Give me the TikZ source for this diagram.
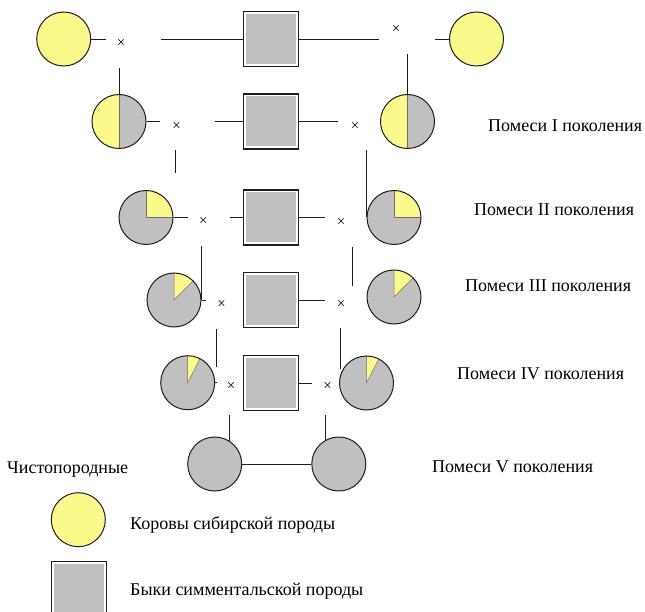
\documentclass[tikz,border=0pt]{standalone}
\usepackage{fontspec}
\setmainfont{Liberation Serif}
\definecolor{cowyellow}{RGB}{250,250,140}
\definecolor{bullgray}{RGB}{192,192,192}
\definecolor{inkline}{RGB}{30,30,30}
\definecolor{seamgray}{RGB}{110,110,110}

\begin{document}
\begin{tikzpicture}[x=1pt,y=1pt,
  cow/.style={circle,draw=inkline,line width=1pt,fill=cowyellow,minimum size=54pt,inner sep=0pt},
  mix/.style={circle,draw=inkline,line width=1pt,fill=bullgray,minimum size=54pt,inner sep=0pt},
  halfmix/.style={mix,
    path picture={
      \fill[cowyellow] (path picture bounding box.north west) rectangle (path picture bounding box.south);
      \draw[seamgray,line width=0.8pt] (path picture bounding box.north) -- (path picture bounding box.south);}},
  shareyellow/.style={mix,
    path picture={
      \fill[cowyellow] (path picture bounding box.center) -- +(90:45pt) -- +({(90+#1)/2}:45pt) -- +(#1:45pt) -- cycle;
      \draw[seamgray,line width=0.5pt] (path picture bounding box.center) +(90:30pt) -- (path picture bounding box.center) -- +(#1:30pt);}},
  bull/.style={rectangle,draw=inkline,line width=1.2pt,fill=white,minimum size=55pt,inner sep=0pt,
    path picture={
      \fill[bullgray] ([shift={(2.5pt,2.5pt)}]path picture bounding box.south west)
        rectangle ([shift={(-2.5pt,-2.5pt)}]path picture bounding box.north east);}},
  link/.style={draw=inkline,line width=0.9pt},
  crossmark/.style={font=\fontsize{15}{15}\selectfont,inner sep=0pt},
  caption/.style={font=\fontsize{18}{18}\selectfont,anchor=west,inner sep=0pt},
]
\useasboundingbox[fill=white] (0,0) rectangle (645,-612);

% --- parents and crossbred generations ---
\node[cow] (c1L) at (63.7,-39) {};
\node[bull] (b1) at (271,-39) {};
\node[cow] (c1R) at (476.5,-39) {};

\node[halfmix] (c2L) at (119,-121.5) {};
\node[bull] (b2) at (271,-121.5) {};
\node[halfmix] (c2R) at (407.5,-121.5) {};

\node[shareyellow=0] (c3L) at (146,-217.5) {};
\node[bull] (b3) at (271,-217.5) {};
\node[shareyellow=0] (c3R) at (394,-217.5) {};

\node[shareyellow=45] (c4L) at (174,-300) {};
\node[bull] (b4) at (271,-300) {};
\node[shareyellow=45] (c4R) at (394,-297) {};

\node[shareyellow=63] (c5L) at (187.7,-382.7) {};
\node[bull] (b5) at (271,-383) {};
\node[shareyellow=63] (c5R) at (366.5,-383) {};

\node[mix] (c6L) at (214.7,-464) {};
\node[mix] (c6R) at (338.8,-464) {};

% --- crossing marks ---
\node[crossmark] (x1L) at (121,-43) {×};
\node[crossmark] (x1R) at (396,-29) {×};
\node[crossmark] (x2L) at (176.7,-126) {×};
\node[crossmark] (x2R) at (355,-126) {×};
\node[crossmark] (x3L) at (203.3,-221.7) {×};
\node[crossmark] (x3R) at (341,-222.3) {×};
\node[crossmark] (x4L) at (221.7,-304) {×};
\node[crossmark] (x4R) at (341,-304) {×};
\node[crossmark] (x5L) at (231,-386.7) {×};
\node[crossmark] (x5R) at (327.7,-386.7) {×};

% --- free ends of the connectors ---
\coordinate (h1a) at (106,-39);
\coordinate (h1b) at (160.7,-39);
\coordinate (h1c) at (379,-39);
\coordinate (h1d) at (435,-39);
\coordinate (h2a) at (160,-121.5);
\coordinate (h2b) at (215,-121.5);
\coordinate (h2c) at (338,-121.5);
\coordinate (h3a) at (187.7,-217.5);
\coordinate (h3b) at (230,-217.5);
\coordinate (h3c) at (325,-217.5);
\coordinate (h4a) at (206,-300);
\coordinate (h4c) at (325,-300);
\coordinate (h5a) at (217,-382.7);
\coordinate (h5c) at (311.7,-383);

\coordinate (v1a) at (0,-67.7);
\coordinate (v1b) at (0,-54);
\coordinate (v2a) at (175,-150);
\coordinate (v2b) at (175,-173);
\coordinate (v2c) at (0,-150);
\coordinate (v3a) at (0,-245.7);
\coordinate (v3b) at (352.7,-246.7);
\coordinate (v3c) at (352.7,-285.7);
\coordinate (v4a) at (216,-329);
\coordinate (v4b) at (216,-367);
\coordinate (v4c) at (340,-328);
\coordinate (v4d) at (340,-369);
\coordinate (v5a) at (0,-415);

% --- horizontal connectors ---
\draw[link] (c1L.east) -- (h1a);
\draw[link] (h1b) -- (b1.west);
\draw[link] (b1.east) -- (h1c);
\draw[link] (h1d) -- (c1R.west);

\draw[link] (c2L.east) -- (h2a);
\draw[link] (h2b) -- (b2.west);
\draw[link] (b2.east) -- (h2c);

\draw[link] (c3L.east) -- (h3a);
\draw[link] (h3b) -- (b3.west);
\draw[link] (b3.east) -- (h3c);

\draw[link] (c4L.east) -- (h4a);
\draw[link] (b4.east) -- (h4c);

\draw[link] (c5L.east) -- (h5a);
\draw[link] (b5.east) -- (h5c);

\draw[link] (c6L.east) -- (c6R.west);

% --- vertical connectors ---
\draw[link] (c2L.north |- v1a) -- (c2L.north);
\draw[link] (c2R.north |- v1b) -- (c2R.north);
\draw[link] (v2a) -- (v2b);
\draw[link] (c3R.west |- v2c) -- (c3R.west);
\draw[link] (c4L.east |- v3a) -- (c4L.east);
\draw[link] (v3b) -- (v3c);
\draw[link] (v4a) -- (v4b);
\draw[link] (v4c) -- (v4d);
\draw[link] (c6L.57 |- v5a) -- (c6L.57);
\draw[link] (c6R.119 |- v5a) -- (c6R.119);

% --- generation captions ---
\node[caption] (t1) at (488,-126) {Помеси I поколения};
\node[caption] (t2) at (474,-210) {Помеси II поколения};
\node[caption] (t3) at (465,-285.7) {Помеси III поколения};
\node[caption] (t4) at (457,-374) {Помеси IV поколения};
\node[caption] (t5) at (432,-467) {Помеси V поколения};

% --- legend ---
\node[caption] (tp) at (7,-469.7) {Чистопородные};
\node[cow] (lc) at (78.3,-519.7) {};
\node[caption] (tc) at (130,-524.7) {Коровы сибирской породы};
\node[bull] (lb) at (78.7,-588.7) {};
\node[caption] (tb) at (130,-591.3) {Быки симментальской породы};
\end{tikzpicture}
\end{document}
